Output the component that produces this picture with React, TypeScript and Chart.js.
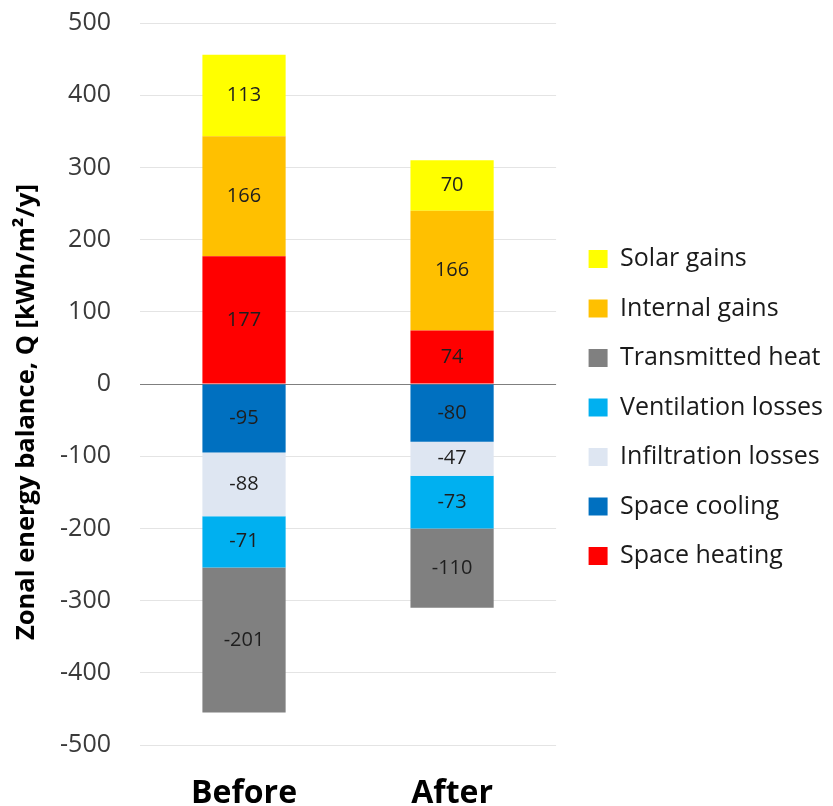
import React, { useEffect, useRef } from 'react';
import { Chart, registerables } from 'chart.js';

Chart.register(...registerables);

const categories = ['Before', 'After'];
const solarGains = [113, 70];
const internalGains = [166, 166];
const transmittedHeat = [-201, -110];
const ventilationLosses = [-71, -73];
const infiltrationLosses = [-88, -47];
const spaceCooling = [-95, -80];
const spaceHeating = [177, 74];

const seriesNames = [
  'Solar gains',
  'Internal gains',
  'Transmitted heat',
  'Ventilation losses',
  'Infiltration losses',
  'Space cooling',
  'Space heating',
];
const seriesValues = [
  solarGains,
  internalGains,
  transmittedHeat,
  ventilationLosses,
  infiltrationLosses,
  spaceCooling,
  spaceHeating,
];
const seriesColors = ['#FFFF00', '#FFC000', '#808080', '#00B0F0', '#DEE6F2', '#0070C0', '#FF0000'];
// stacking order (lower = closer to zero)
const stackOrder = [4, 2, 6, 5, 3, 1, 0];

const yMin = -500;
const yMax = 500;
const yStep = 100;
const yAxisTitle = 'Zonal energy balance, Q [kWh/m²/y]';

const FONT = '"Open Sans", "DejaVu Sans", sans-serif';

const valueLabels = {
  id: 'valueLabels',
  afterDatasetsDraw(chart: any) {
    const ctx = chart.ctx;
    ctx.save();
    ctx.font = `20px ${FONT}`;
    ctx.fillStyle = '#1e1e1e';
    ctx.textAlign = 'center';
    ctx.textBaseline = 'middle';
    chart.data.datasets.forEach((ds: any, i: number) => {
      const meta = chart.getDatasetMeta(i);
      meta.data.forEach((el: any, j: number) => {
        const p = el.getCenterPoint();
        ctx.fillText(String(ds.data[j]), p.x, p.y);
      });
    });
    ctx.restore();
  },
};

const yTitle = {
  id: 'yTitle',
  afterDraw(chart: any) {
    const { ctx, chartArea } = chart;
    ctx.save();
    ctx.translate(27, (chartArea.top + chartArea.bottom) / 2 + 28);
    ctx.rotate(-Math.PI / 2);
    ctx.font = `bold 25.5px ${FONT}`;
    ctx.fillStyle = '#000000';
    ctx.textAlign = 'center';
    ctx.textBaseline = 'middle';
    ctx.fillText(yAxisTitle, 0, 0);
    ctx.restore();
  },
};

export default function App() {
  const canvasRef = useRef<HTMLCanvasElement | null>(null);

  useEffect(() => {
    if (!canvasRef.current) return;
    const chart = new Chart(canvasRef.current, {
      type: 'bar',
      data: {
        labels: categories,
        datasets: seriesNames.map((name, i) => ({
          label: name,
          data: seriesValues[i],
          backgroundColor: seriesColors[i],
          borderWidth: 0,
          order: stackOrder[i],
          categoryPercentage: 1,
          barPercentage: 0.4,
        })),
      },
      options: {
        responsive: false,
        animation: false,
        layout: { padding: 0 },
        plugins: {
          legend: {
            position: 'right',
            align: 'center',
            maxWidth: 400,
            title: { display: true, text: '', font: { size: 1, lineHeight: 1 }, padding: 4 },
            labels: {
              boxWidth: 19,
              boxHeight: 18,
              padding: 24.5,
              color: '#1a1a1a',
              font: { size: 25, family: FONT },
              sort: (a: any, b: any) => a.datasetIndex - b.datasetIndex,
            },
          },
          tooltip: { enabled: false },
        },
        scales: {
          x: {
            stacked: true,
            grid: { display: false },
            border: { display: false },
            ticks: {
              color: '#000000',
              padding: 22,
              font: { size: 32, weight: 'bold', family: FONT },
            },
            afterFit: (s: any) => {
              s.height = 61;
            },
          },
          y: {
            stacked: true,
            min: yMin,
            max: yMax,
            border: { display: false },
            grid: {
              drawTicks: false,
              lineWidth: 1,
              color: (c: any) => (c.tick && c.tick.value === 0 ? '#7f7f7f' : '#e4e4e4'),
            },
            ticks: {
              stepSize: yStep,
              color: '#3a3a3a',
              padding: 29,
              font: { size: 25, family: FONT },
            },
            afterFit: (s: any) => {
              s.width = 140;
              s.paddingTop = 23;
            },
          },
          pad: {
            type: 'linear',
            position: 'right',
            display: true,
            grid: { display: false },
            border: { display: false },
            ticks: { display: false },
            afterFit: (s: any) => {
              s.width = 8;
            },
          },
        },
      } as any,
      plugins: [valueLabels, yTitle],
    });
    return () => chart.destroy();
  }, []);

  return (
    <div style={{ position: 'fixed', left: 0, top: 0, width: 833, height: 806, background: '#ffffff' }}>
      <canvas ref={canvasRef} width={833} height={806} />
    </div>
  );
}
